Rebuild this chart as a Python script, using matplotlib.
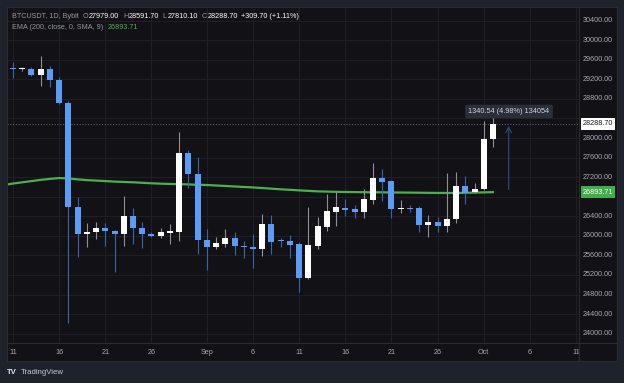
import numpy as np
import matplotlib.pyplot as plt

plt.rcParams['font.family'] = ['Liberation Sans', 'DejaVu Sans']

# daily candles, Aug 11 .. Oct 2 (index 0 = Aug 11)
opens = [29427, 29408, 29406, 29283, 29406, 29181, 28717, 26596, 26032, 26079,
         26168, 26106, 26032, 26412, 26154, 26045, 25997, 26065, 26085, 27688,
         27265, 25916, 25766, 25840, 25950, 25800, 25773, 25731, 26236, 25895,
         25895, 25827, 25145, 25800, 26188, 26494, 26576, 26549, 26494, 26733,
         27190, 27115, 26549, 26563, 26563, 26229, 26283, 26194, 26351, 27012,
         26890, 26959, 27979.00]
highs = [29562, 29447, 29447, 29678, 29480, 29243, 28764, 26801, 26257, 26289,
         26269, 26130, 26822, 26563, 26289, 26085, 26154, 26236, 28130, 27756,
         27606, 26140, 25970, 26140, 26085, 25895, 26038, 26440, 26426, 25963,
         26017, 25881, 26583, 26392, 26856, 26904, 26754, 26631, 26952, 27483,
         27367, 27142, 26733, 26631, 26604, 26426, 26385, 27292, 27299, 27217,
         27074, 28349, 28591.70]
lows = [29222, 29377, 29269, 29071, 29044, 28700, 24212, 25561, 25778, 25929,
        25793, 25267, 25793, 25827, 25758, 25970, 25950, 25834, 25902, 26973,
        25629, 25302, 25731, 25766, 25609, 25541, 25336, 25595, 25629, 25772,
        25541, 24858, 25111, 25731, 26100, 26208, 26413, 26372, 26358, 26651,
        26713, 26358, 26460, 26494, 26085, 25970, 26078, 26085, 26269, 26651,
        26883, 26938, 27810.10]
closes = [29406, 29414, 29283, 29406, 29181, 28717, 26596, 26032, 26085, 26168,
          26100, 26032, 26412, 26154, 26038, 25997, 26079, 26100, 27688, 27265,
          25909, 25766, 25854, 25950, 25793, 25766, 25738, 26236, 25881, 25885,
          25813, 25145, 25813, 26201, 26508, 26583, 26529, 26494, 26747, 27190,
          27095, 26549, 26563, 26549, 26229, 26283, 26208, 26351, 27012, 26877,
          26959, 27979, 28288.70]

# EMA(200) with SMA(9) smoothing, Aug 10 .. Oct 2
ema = [27040, 27070, 27095, 27120, 27145, 27165, 27183, 27175, 27155, 27140,
       27130, 27120, 27110, 27102, 27095, 27085, 27075, 27067, 27061, 27058,
       27052, 27045, 27040, 27030, 27020, 27010, 27000, 26990, 26978, 26965,
       26952, 26942, 26930, 26920, 26910, 26905, 26900, 26897, 26895, 26893,
       26891, 26890, 26888, 26886, 26884, 26882, 26880, 26878, 26877, 26877,
       26880, 26885, 26889, 26893.71]

price_ticks = np.arange(24000, 30401, 400)
date_ticks = [0, 5, 10, 15, 21, 26, 31, 36, 41, 46, 51, 56, 61]
date_labels = ['11', '16', '21', '26', 'Sep', '6', '11', '16', '21', '26', 'Oct', '6', '11']

last_price = 28288.70
ema_last = 26893.71
measure_from, measure_to = 26948.16, 28288.70

W, H = 624, 383
bg_out = '#1e222d'
bg_in = '#121216'
edge = '#2a2a31'
grid_c = '#1f1f25'
txt_c = '#a9abb3'
up_c = '#ffffff'
dn_c = '#5b9cf6'

def box(x0, y0, x1, y1):
    return [x0 / W, 1 - y1 / H, (x1 - x0) / W, (y1 - y0) / H]

fig = plt.figure(figsize=(W / 100, H / 100), dpi=100, facecolor=bg_out)
ax = fig.add_axes(box(7, 7, 579, 343), facecolor=bg_in)
ax_p = fig.add_axes(box(579, 7, 617, 343), facecolor=bg_in)
ax_t = fig.add_axes(box(7, 343, 579, 361), facecolor=bg_in)
ax_c = fig.add_axes(box(579, 343, 617, 361), facecolor=bg_in)

xlim = (-0.65, 61.32)
ylim = (23809, 30680)
for a in (ax, ax_p, ax_t, ax_c):
    a.set_xticks([]); a.set_yticks([])
    for s in a.spines.values():
        s.set_color(edge); s.set_linewidth(0.8)
ax.set_xlim(xlim); ax.set_ylim(ylim)
ax_p.set_xlim(0, 1); ax_p.set_ylim(ylim)
ax_t.set_xlim(xlim); ax_t.set_ylim(0, 1)

# grid
for p in price_ticks:
    ax.axhline(p, color=grid_c, lw=0.7, zorder=0)
for d in date_ticks:
    ax.axvline(d, color=grid_c, lw=0.7, zorder=0)

# EMA
ax.plot(np.arange(-1, len(ema) - 1), ema, color='#4caf50', lw=1.6, zorder=2)

# candles
x = np.arange(len(opens))
o = np.array(opens); c = np.array(closes)
up = c >= o
for xi, oi, hi, li, ci, u in zip(x, opens, highs, lows, closes, up):
    col = up_c if u else dn_c
    wcol = '#8f8f94' if u else '#3a66a8'
    ax.vlines(xi, li, hi, color=wcol, lw=0.8, zorder=3)
    lo_b = min(oi, ci)
    h_b = max(abs(ci - oi), 25)
    ax.bar(xi, h_b, bottom=lo_b, width=0.65, color=col, lw=0, zorder=4)

# last price line
ax.axhline(last_price, color='#5d606b', lw=0.8, ls=(0, (1, 1.5)), zorder=1)

# measurement arrow + tooltip
ax.annotate('', xy=(53.7, measure_to - 40), xytext=(53.7, measure_from),
            arrowprops=dict(arrowstyle='->', color='#2d4a8a', lw=0.8,
                            shrinkA=0, shrinkB=0), zorder=5)
fig.text(509 / W, 1 - 111.5 / H, '1340.54 (4.98%) 134054', fontsize=5.3,
         color='#d1d4dc', ha='center', va='center', zorder=10,
         bbox=dict(boxstyle='round,pad=0.45,rounding_size=0.3',
                   fc='#2a2e39', ec='none'))

# price axis (labels hidden behind the two value tags are skipped)
for p in price_ticks:
    if abs(p - last_price) < 200 or abs(p - ema_last) < 200:
        continue
    ax_p.text(0.5, p, f'{p:.2f}', fontsize=5.2, color=txt_c,
              ha='center', va='center')
ax_p.text(0.5, last_price, f'{last_price:.2f}', fontsize=5.2, color='#131722',
          ha='center', va='center', zorder=6,
          bbox=dict(boxstyle='square,pad=0.3', fc='#ffffff', ec='none'))
ax_p.text(0.5, ema_last, f'{ema_last:.2f}', fontsize=5.2, color='#ffffff',
          ha='center', va='center', zorder=6,
          bbox=dict(boxstyle='square,pad=0.3', fc='#3fae4a', ec='none'))

# time axis
for d, lab in zip(date_ticks, date_labels):
    ax_t.text(d, 0.45, lab, fontsize=5.2, color=txt_c, ha='center', va='center')

# header, placed piece after piece
renderer = fig.canvas.get_renderer()

def chain(px, py, parts, size=5.2):
    cur = px
    for s, col, gap in parts:
        t = fig.text(cur / W, 1 - py / H, s, fontsize=size, color=col,
                     va='center')
        bb = t.get_window_extent(renderer=renderer)
        cur = bb.x1 + gap

grey = '#9598a1'
chain(12, 16.7, [('BTCUSDT, 1D, Bybit', grey, 4),
                 ('O', grey, 0.8), ('27979.00', '#ffffff', 3.5),
                 ('H', grey, 0.8), ('28591.70', '#ffffff', 3.5),
                 ('L', grey, 0.8), ('27810.10', '#ffffff', 3.5),
                 ('C', grey, 0.8), ('28288.70', '#ffffff', 3.5),
                 ('+309.70 (+1.11%)', '#ffffff', 0)])
chain(12, 27.3, [('EMA (200, close, 0, SMA, 9)', grey, 4),
                 ('26893.71', '#4caf50', 0)])

# logo
fig.text(7 / W, 1 - 372 / H, 'TV', fontsize=5.6, color='#e0e3eb',
         fontweight='bold', va='center')
fig.text(21 / W, 1 - 372 / H, 'TradingView', fontsize=5.6, color='#c8cad2',
         va='center')

fig.savefig('out.png', dpi=100, facecolor=bg_out)
